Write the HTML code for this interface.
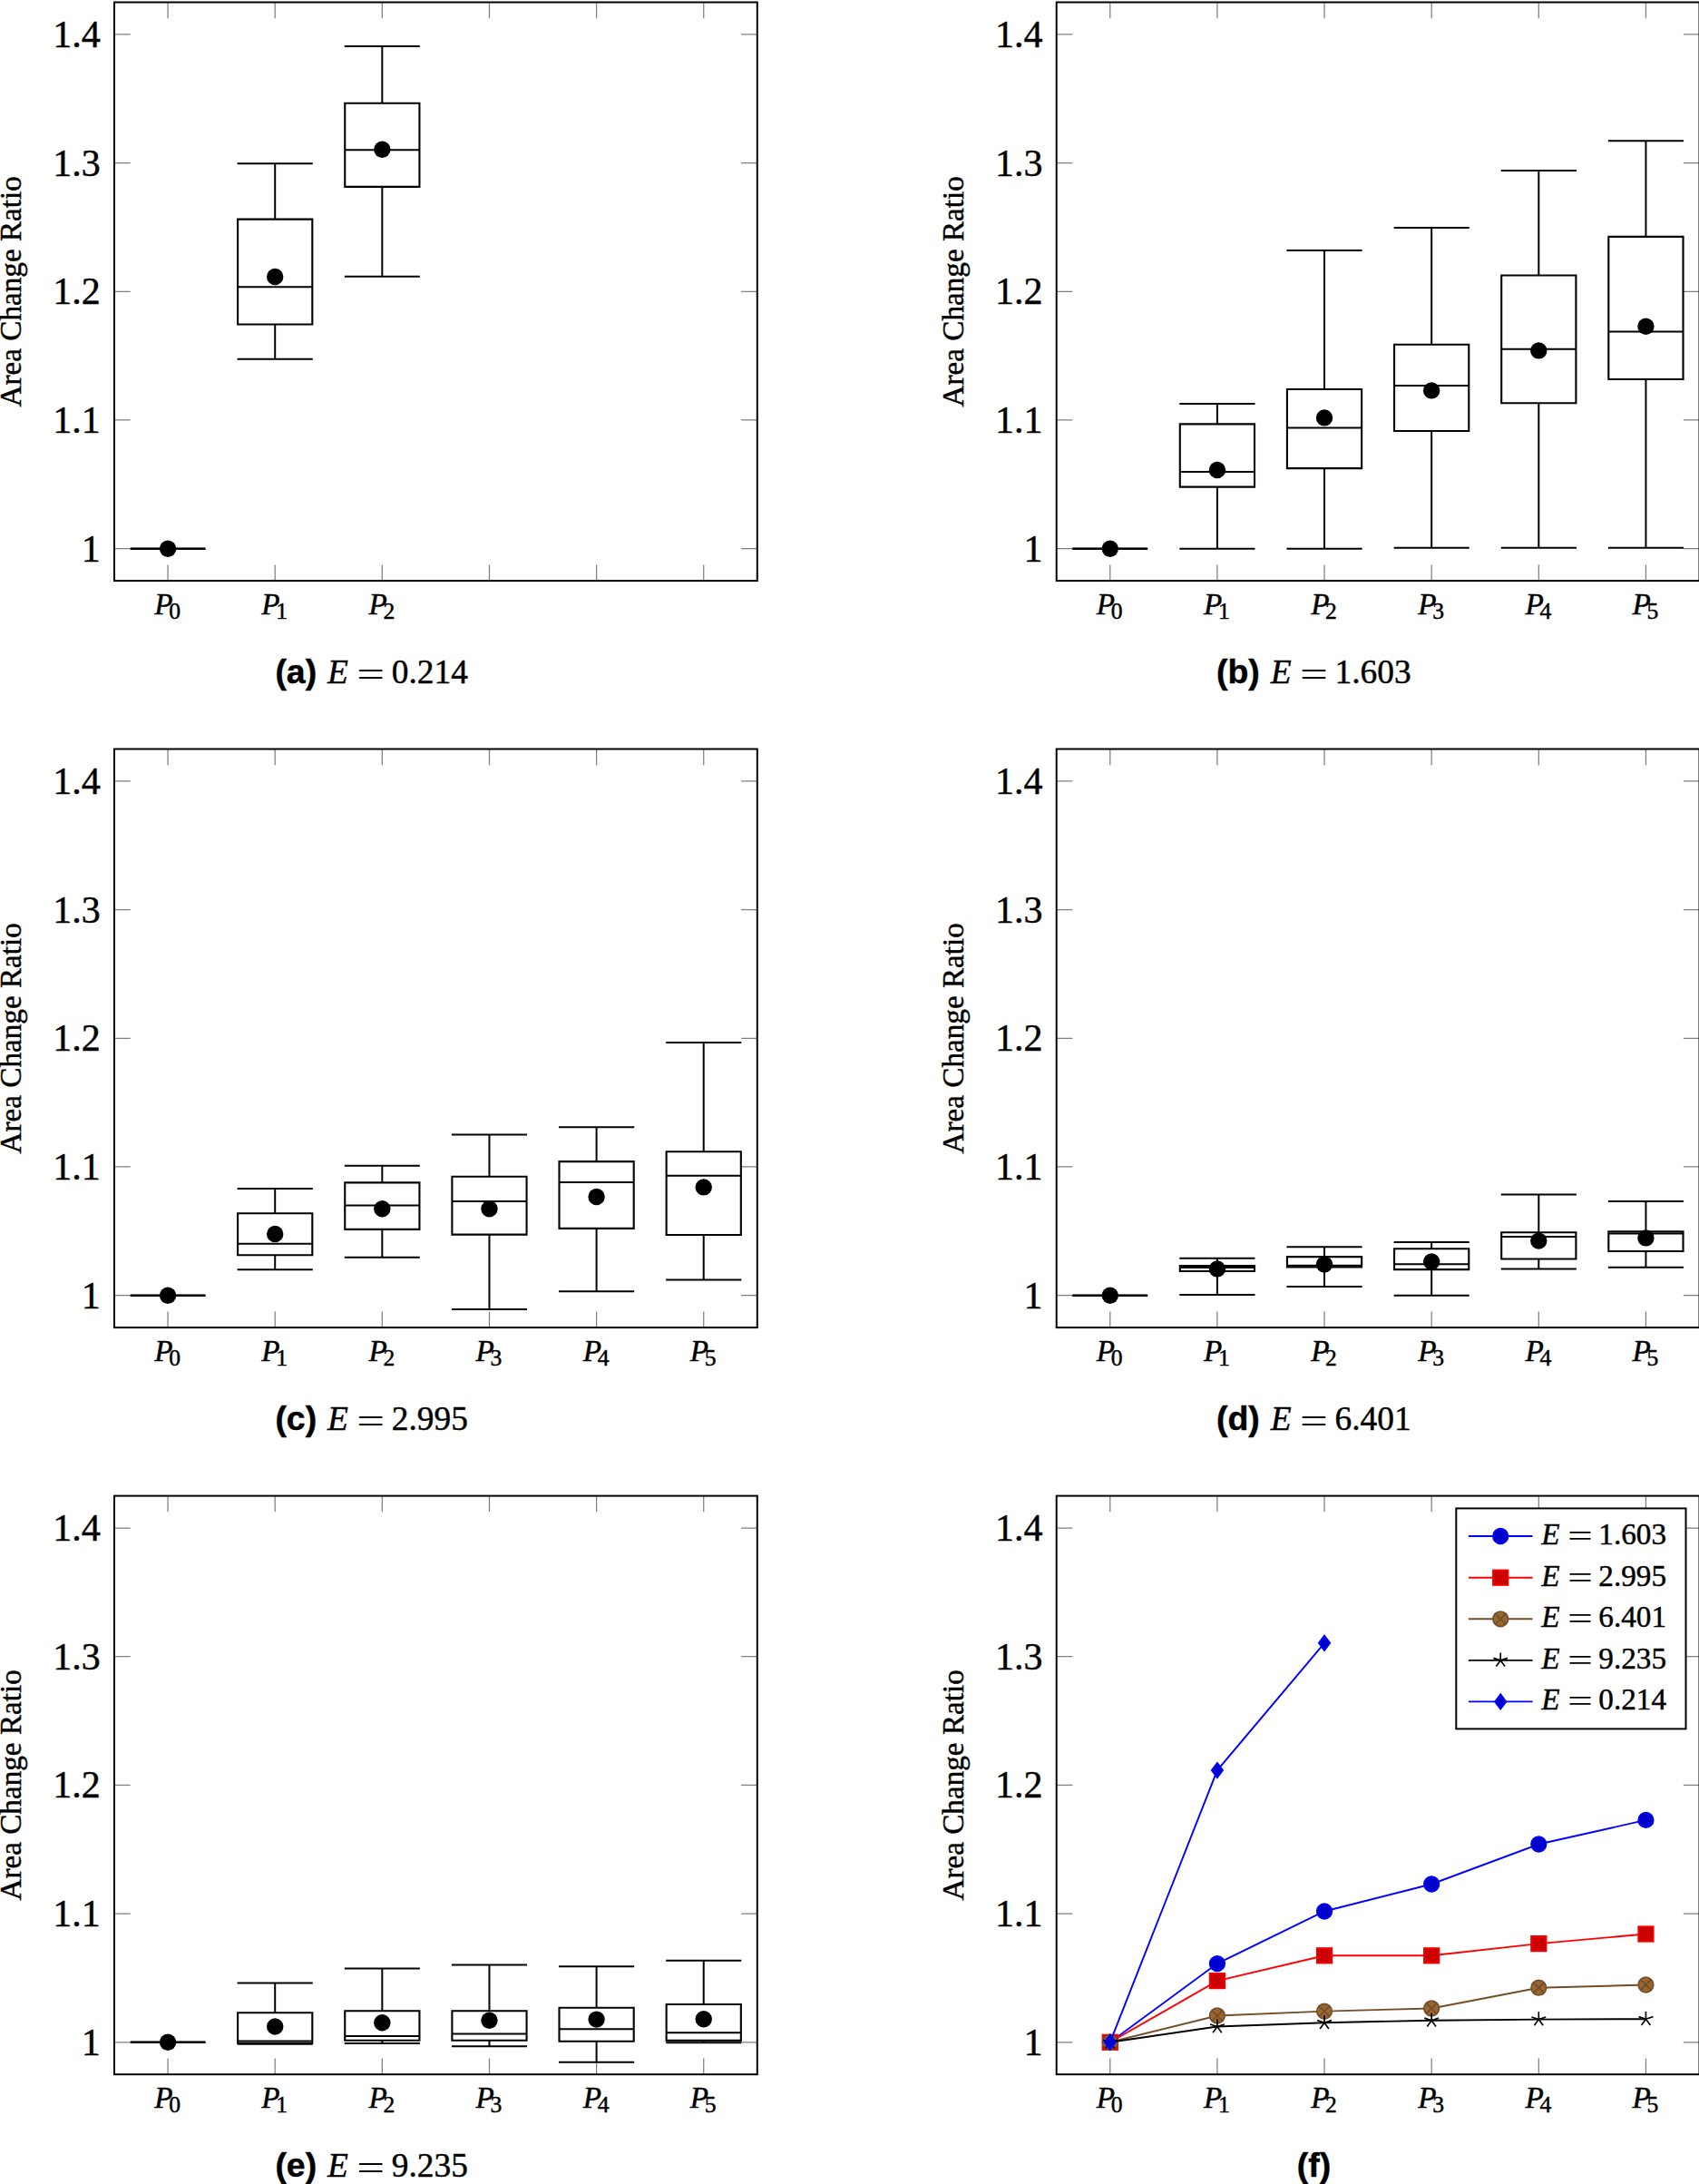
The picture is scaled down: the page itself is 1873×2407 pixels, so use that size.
<!DOCTYPE html>
<html lang="en">
<head>
<meta charset="utf-8">
<title>Area Change Ratio</title>
<style>
html,body{margin:0;padding:0;background:#fff;}
body{width:1873px;height:2407px;overflow:hidden;}
svg{display:block;}
text{font-family:'Liberation Serif', serif;fill:#000;stroke:#000;stroke-width:.45px;}
text.eq{stroke:none;}
text.cb{font-family:'Liberation Sans',sans-serif;font-weight:bold;}
</style>
</head>
<body>
<svg width="1873" height="2407" viewBox="0 0 1873 2407">
<rect width="1873" height="2407" fill="#fff"/>
<g>
<path d="M185.07 640.1v-17.7M185.07 2.5v17.7M303.2 640.1v-17.7M303.2 2.5v17.7M421.33 640.1v-17.7M421.33 2.5v17.7M539.47 640.1v-17.7M539.47 2.5v17.7M657.6 640.1v-17.7M657.6 2.5v17.7M775.73 640.1v-17.7M775.73 2.5v17.7M126 604.68h17.7M834.8 604.68h-17.7M126 462.99h17.7M834.8 462.99h-17.7M126 321.3h17.7M834.8 321.3h-17.7M126 179.61h17.7M834.8 179.61h-17.7M126 37.92h17.7M834.8 37.92h-17.7" stroke="#808080" stroke-width="1.25" fill="none"/>
<rect x="126" y="2.5" width="708.8" height="637.6" fill="none" stroke="#000" stroke-width="2.0"/>
<text x="110.7" y="618.68" font-size="42.0" text-anchor="end">1</text>
<text x="110.7" y="476.99" font-size="42.0" text-anchor="end">1.1</text>
<text x="110.7" y="335.3" font-size="42.0" text-anchor="end">1.2</text>
<text x="110.7" y="193.61" font-size="42.0" text-anchor="end">1.3</text>
<text x="110.7" y="51.92" font-size="42.0" text-anchor="end">1.4</text>
<text x="170.17" y="677.1" font-size="33.2"><tspan font-style="italic">P</tspan><tspan dx="-4.3" dy="4.6" font-size="25.6">0</tspan></text>
<text x="288.3" y="677.1" font-size="33.2"><tspan font-style="italic">P</tspan><tspan dx="-4.3" dy="4.6" font-size="25.6">1</tspan></text>
<text x="406.43" y="677.1" font-size="33.2"><tspan font-style="italic">P</tspan><tspan dx="-4.3" dy="4.6" font-size="25.6">2</tspan></text>
<text transform="translate(23.1 321.3) rotate(-90)" font-size="33.2" text-anchor="middle">Area Change Ratio</text>
<path d="M143.97 604.68H226.17V604.68H143.97Z" stroke="#000" stroke-width="2.1" fill="none"/>
<path d="M143.97 604.68H226.17M185.07 604.68V604.68M185.07 604.68V604.68" stroke="#000" stroke-width="2.0" fill="none"/>
<path d="M143.52 604.68H226.62M143.52 604.68H226.62" stroke="#000" stroke-width="2.0" fill="none"/>
<circle cx="185.07" cy="604.68" r="9.2"/>
<path d="M262.1 241.6H344.3V357.5H262.1Z" stroke="#000" stroke-width="2.1" fill="none"/>
<path d="M262.1 316.2H344.3M303.2 241.6V180.3M303.2 357.5V395.8" stroke="#000" stroke-width="2.0" fill="none"/>
<path d="M261.65 180.3H344.75M261.65 395.8H344.75" stroke="#000" stroke-width="2.0" fill="none"/>
<circle cx="303.2" cy="305" r="9.2"/>
<path d="M380.23 113.8H462.43V205.9H380.23Z" stroke="#000" stroke-width="2.1" fill="none"/>
<path d="M380.23 165.2H462.43M421.33 113.8V51.1M421.33 205.9V304.8" stroke="#000" stroke-width="2.0" fill="none"/>
<path d="M379.78 51.1H462.88M379.78 304.8H462.88" stroke="#000" stroke-width="2.0" fill="none"/>
<circle cx="421.33" cy="164.7" r="9.2"/>
<text x="303.4" y="753.1" class="cb" font-size="37.4">(a)</text>
<text x="360.9" y="753.1" font-size="37.4" font-style="italic">E</text>
<text transform="translate(393.2 756.1) scale(1.46 1)" class="eq" font-size="37.4">=</text>
<text x="431.8" y="753.1" font-size="37.4">0.214</text>
</g>
<g>
<path d="M1223.77 640.1v-17.7M1223.77 2.5v17.7M1341.9 640.1v-17.7M1341.9 2.5v17.7M1460.03 640.1v-17.7M1460.03 2.5v17.7M1578.17 640.1v-17.7M1578.17 2.5v17.7M1696.3 640.1v-17.7M1696.3 2.5v17.7M1814.43 640.1v-17.7M1814.43 2.5v17.7M1164.7 604.68h17.7M1873.5 604.68h-17.7M1164.7 462.99h17.7M1873.5 462.99h-17.7M1164.7 321.3h17.7M1873.5 321.3h-17.7M1164.7 179.61h17.7M1873.5 179.61h-17.7M1164.7 37.92h17.7M1873.5 37.92h-17.7" stroke="#808080" stroke-width="1.25" fill="none"/>
<rect x="1164.7" y="2.5" width="708.8" height="637.6" fill="none" stroke="#000" stroke-width="2.0"/>
<text x="1149.4" y="618.68" font-size="42.0" text-anchor="end">1</text>
<text x="1149.4" y="476.99" font-size="42.0" text-anchor="end">1.1</text>
<text x="1149.4" y="335.3" font-size="42.0" text-anchor="end">1.2</text>
<text x="1149.4" y="193.61" font-size="42.0" text-anchor="end">1.3</text>
<text x="1149.4" y="51.92" font-size="42.0" text-anchor="end">1.4</text>
<text x="1208.87" y="677.1" font-size="33.2"><tspan font-style="italic">P</tspan><tspan dx="-4.3" dy="4.6" font-size="25.6">0</tspan></text>
<text x="1327" y="677.1" font-size="33.2"><tspan font-style="italic">P</tspan><tspan dx="-4.3" dy="4.6" font-size="25.6">1</tspan></text>
<text x="1445.13" y="677.1" font-size="33.2"><tspan font-style="italic">P</tspan><tspan dx="-4.3" dy="4.6" font-size="25.6">2</tspan></text>
<text x="1563.27" y="677.1" font-size="33.2"><tspan font-style="italic">P</tspan><tspan dx="-4.3" dy="4.6" font-size="25.6">3</tspan></text>
<text x="1681.4" y="677.1" font-size="33.2"><tspan font-style="italic">P</tspan><tspan dx="-4.3" dy="4.6" font-size="25.6">4</tspan></text>
<text x="1799.53" y="677.1" font-size="33.2"><tspan font-style="italic">P</tspan><tspan dx="-4.3" dy="4.6" font-size="25.6">5</tspan></text>
<text transform="translate(1061.8 321.3) rotate(-90)" font-size="33.2" text-anchor="middle">Area Change Ratio</text>
<path d="M1182.67 604.68H1264.87V604.68H1182.67Z" stroke="#000" stroke-width="2.1" fill="none"/>
<path d="M1182.67 604.68H1264.87M1223.77 604.68V604.68M1223.77 604.68V604.68" stroke="#000" stroke-width="2.0" fill="none"/>
<path d="M1182.22 604.68H1265.32M1182.22 604.68H1265.32" stroke="#000" stroke-width="2.0" fill="none"/>
<circle cx="1223.77" cy="604.68" r="9.2"/>
<path d="M1300.8 467.4H1383V536.6H1300.8Z" stroke="#000" stroke-width="2.1" fill="none"/>
<path d="M1300.8 520.1H1383M1341.9 467.4V445.1M1341.9 536.6V604.7" stroke="#000" stroke-width="2.0" fill="none"/>
<path d="M1300.35 445.1H1383.45M1300.35 604.7H1383.45" stroke="#000" stroke-width="2.0" fill="none"/>
<circle cx="1341.9" cy="518" r="9.2"/>
<path d="M1418.93 429H1501.13V516.1H1418.93Z" stroke="#000" stroke-width="2.1" fill="none"/>
<path d="M1418.93 471.4H1501.13M1460.03 429V276M1460.03 516.1V604.7" stroke="#000" stroke-width="2.0" fill="none"/>
<path d="M1418.48 276H1501.58M1418.48 604.7H1501.58" stroke="#000" stroke-width="2.0" fill="none"/>
<circle cx="1460.03" cy="460.4" r="9.2"/>
<path d="M1537.07 379.8H1619.27V475H1537.07Z" stroke="#000" stroke-width="2.1" fill="none"/>
<path d="M1537.07 424.9H1619.27M1578.17 379.8V251.1M1578.17 475V603.7" stroke="#000" stroke-width="2.0" fill="none"/>
<path d="M1536.62 251.1H1619.72M1536.62 603.7H1619.72" stroke="#000" stroke-width="2.0" fill="none"/>
<circle cx="1578.17" cy="430.4" r="9.2"/>
<path d="M1655.2 303.5H1737.4V444.3H1655.2Z" stroke="#000" stroke-width="2.1" fill="none"/>
<path d="M1655.2 384.8H1737.4M1696.3 303.5V188.1M1696.3 444.3V603.7" stroke="#000" stroke-width="2.0" fill="none"/>
<path d="M1654.75 188.1H1737.85M1654.75 603.7H1737.85" stroke="#000" stroke-width="2.0" fill="none"/>
<circle cx="1696.3" cy="386.4" r="9.2"/>
<path d="M1773.33 260.9H1855.53V418H1773.33Z" stroke="#000" stroke-width="2.1" fill="none"/>
<path d="M1773.33 365.6H1855.53M1814.43 260.9V155.3M1814.43 418V603.7" stroke="#000" stroke-width="2.0" fill="none"/>
<path d="M1772.88 155.3H1855.98M1772.88 603.7H1855.98" stroke="#000" stroke-width="2.0" fill="none"/>
<circle cx="1814.43" cy="359.8" r="9.2"/>
<text x="1341.07" y="753.1" class="cb" font-size="37.4">(b)</text>
<text x="1400.63" y="753.1" font-size="37.4" font-style="italic">E</text>
<text transform="translate(1432.93 756.1) scale(1.46 1)" class="eq" font-size="37.4">=</text>
<text x="1471.53" y="753.1" font-size="37.4">1.603</text>
</g>
<g>
<path d="M185.07 1463.1v-17.7M185.07 825.5v17.7M303.2 1463.1v-17.7M303.2 825.5v17.7M421.33 1463.1v-17.7M421.33 825.5v17.7M539.47 1463.1v-17.7M539.47 825.5v17.7M657.6 1463.1v-17.7M657.6 825.5v17.7M775.73 1463.1v-17.7M775.73 825.5v17.7M126 1427.68h17.7M834.8 1427.68h-17.7M126 1285.99h17.7M834.8 1285.99h-17.7M126 1144.3h17.7M834.8 1144.3h-17.7M126 1002.61h17.7M834.8 1002.61h-17.7M126 860.92h17.7M834.8 860.92h-17.7" stroke="#808080" stroke-width="1.25" fill="none"/>
<rect x="126" y="825.5" width="708.8" height="637.6" fill="none" stroke="#000" stroke-width="2.0"/>
<text x="110.7" y="1441.68" font-size="42.0" text-anchor="end">1</text>
<text x="110.7" y="1299.99" font-size="42.0" text-anchor="end">1.1</text>
<text x="110.7" y="1158.3" font-size="42.0" text-anchor="end">1.2</text>
<text x="110.7" y="1016.61" font-size="42.0" text-anchor="end">1.3</text>
<text x="110.7" y="874.92" font-size="42.0" text-anchor="end">1.4</text>
<text x="170.17" y="1500.1" font-size="33.2"><tspan font-style="italic">P</tspan><tspan dx="-4.3" dy="4.6" font-size="25.6">0</tspan></text>
<text x="288.3" y="1500.1" font-size="33.2"><tspan font-style="italic">P</tspan><tspan dx="-4.3" dy="4.6" font-size="25.6">1</tspan></text>
<text x="406.43" y="1500.1" font-size="33.2"><tspan font-style="italic">P</tspan><tspan dx="-4.3" dy="4.6" font-size="25.6">2</tspan></text>
<text x="524.57" y="1500.1" font-size="33.2"><tspan font-style="italic">P</tspan><tspan dx="-4.3" dy="4.6" font-size="25.6">3</tspan></text>
<text x="642.7" y="1500.1" font-size="33.2"><tspan font-style="italic">P</tspan><tspan dx="-4.3" dy="4.6" font-size="25.6">4</tspan></text>
<text x="760.83" y="1500.1" font-size="33.2"><tspan font-style="italic">P</tspan><tspan dx="-4.3" dy="4.6" font-size="25.6">5</tspan></text>
<text transform="translate(23.1 1144.3) rotate(-90)" font-size="33.2" text-anchor="middle">Area Change Ratio</text>
<path d="M143.97 1427.68H226.17V1427.68H143.97Z" stroke="#000" stroke-width="2.1" fill="none"/>
<path d="M143.97 1427.68H226.17M185.07 1427.68V1427.68M185.07 1427.68V1427.68" stroke="#000" stroke-width="2.0" fill="none"/>
<path d="M143.52 1427.68H226.62M143.52 1427.68H226.62" stroke="#000" stroke-width="2.0" fill="none"/>
<circle cx="185.07" cy="1427.68" r="9.2"/>
<path d="M262.1 1337.3H344.3V1383.3H262.1Z" stroke="#000" stroke-width="2.1" fill="none"/>
<path d="M262.1 1370.8H344.3M303.2 1337.3V1310M303.2 1383.3V1399.2" stroke="#000" stroke-width="2.0" fill="none"/>
<path d="M261.65 1310H344.75M261.65 1399.2H344.75" stroke="#000" stroke-width="2.0" fill="none"/>
<circle cx="303.2" cy="1360" r="9.2"/>
<path d="M380.23 1303.4H462.43V1354.9H380.23Z" stroke="#000" stroke-width="2.1" fill="none"/>
<path d="M380.23 1328.4H462.43M421.33 1303.4V1284.8M421.33 1354.9V1385.8" stroke="#000" stroke-width="2.0" fill="none"/>
<path d="M379.78 1284.8H462.88M379.78 1385.8H462.88" stroke="#000" stroke-width="2.0" fill="none"/>
<circle cx="421.33" cy="1332.2" r="9.2"/>
<path d="M498.37 1296.8H580.57V1360.6H498.37Z" stroke="#000" stroke-width="2.1" fill="none"/>
<path d="M498.37 1324H580.57M539.47 1296.8V1250.4M539.47 1360.6V1443" stroke="#000" stroke-width="2.0" fill="none"/>
<path d="M497.92 1250.4H581.02M497.92 1443H581.02" stroke="#000" stroke-width="2.0" fill="none"/>
<circle cx="539.47" cy="1332.2" r="9.2"/>
<path d="M616.5 1280.1H698.7V1353.9H616.5Z" stroke="#000" stroke-width="2.1" fill="none"/>
<path d="M616.5 1303.1H698.7M657.6 1280.1V1242.2M657.6 1353.9V1423.2" stroke="#000" stroke-width="2.0" fill="none"/>
<path d="M616.05 1242.2H699.15M616.05 1423.2H699.15" stroke="#000" stroke-width="2.0" fill="none"/>
<circle cx="657.6" cy="1319" r="9.2"/>
<path d="M734.63 1269.2H816.83V1361H734.63Z" stroke="#000" stroke-width="2.1" fill="none"/>
<path d="M734.63 1295.7H816.83M775.73 1269.2V1149.1M775.73 1361V1410.4" stroke="#000" stroke-width="2.0" fill="none"/>
<path d="M734.18 1149.1H817.28M734.18 1410.4H817.28" stroke="#000" stroke-width="2.0" fill="none"/>
<circle cx="775.73" cy="1308.4" r="9.2"/>
<text x="303.4" y="1576.1" class="cb" font-size="37.4">(c)</text>
<text x="360.9" y="1576.1" font-size="37.4" font-style="italic">E</text>
<text transform="translate(393.2 1579.1) scale(1.46 1)" class="eq" font-size="37.4">=</text>
<text x="431.8" y="1576.1" font-size="37.4">2.995</text>
</g>
<g>
<path d="M1223.77 1463.1v-17.7M1223.77 825.5v17.7M1341.9 1463.1v-17.7M1341.9 825.5v17.7M1460.03 1463.1v-17.7M1460.03 825.5v17.7M1578.17 1463.1v-17.7M1578.17 825.5v17.7M1696.3 1463.1v-17.7M1696.3 825.5v17.7M1814.43 1463.1v-17.7M1814.43 825.5v17.7M1164.7 1427.68h17.7M1873.5 1427.68h-17.7M1164.7 1285.99h17.7M1873.5 1285.99h-17.7M1164.7 1144.3h17.7M1873.5 1144.3h-17.7M1164.7 1002.61h17.7M1873.5 1002.61h-17.7M1164.7 860.92h17.7M1873.5 860.92h-17.7" stroke="#808080" stroke-width="1.25" fill="none"/>
<rect x="1164.7" y="825.5" width="708.8" height="637.6" fill="none" stroke="#000" stroke-width="2.0"/>
<text x="1149.4" y="1441.68" font-size="42.0" text-anchor="end">1</text>
<text x="1149.4" y="1299.99" font-size="42.0" text-anchor="end">1.1</text>
<text x="1149.4" y="1158.3" font-size="42.0" text-anchor="end">1.2</text>
<text x="1149.4" y="1016.61" font-size="42.0" text-anchor="end">1.3</text>
<text x="1149.4" y="874.92" font-size="42.0" text-anchor="end">1.4</text>
<text x="1208.87" y="1500.1" font-size="33.2"><tspan font-style="italic">P</tspan><tspan dx="-4.3" dy="4.6" font-size="25.6">0</tspan></text>
<text x="1327" y="1500.1" font-size="33.2"><tspan font-style="italic">P</tspan><tspan dx="-4.3" dy="4.6" font-size="25.6">1</tspan></text>
<text x="1445.13" y="1500.1" font-size="33.2"><tspan font-style="italic">P</tspan><tspan dx="-4.3" dy="4.6" font-size="25.6">2</tspan></text>
<text x="1563.27" y="1500.1" font-size="33.2"><tspan font-style="italic">P</tspan><tspan dx="-4.3" dy="4.6" font-size="25.6">3</tspan></text>
<text x="1681.4" y="1500.1" font-size="33.2"><tspan font-style="italic">P</tspan><tspan dx="-4.3" dy="4.6" font-size="25.6">4</tspan></text>
<text x="1799.53" y="1500.1" font-size="33.2"><tspan font-style="italic">P</tspan><tspan dx="-4.3" dy="4.6" font-size="25.6">5</tspan></text>
<text transform="translate(1061.8 1144.3) rotate(-90)" font-size="33.2" text-anchor="middle">Area Change Ratio</text>
<path d="M1182.67 1427.68H1264.87V1427.68H1182.67Z" stroke="#000" stroke-width="2.1" fill="none"/>
<path d="M1182.67 1427.68H1264.87M1223.77 1427.68V1427.68M1223.77 1427.68V1427.68" stroke="#000" stroke-width="2.0" fill="none"/>
<path d="M1182.22 1427.68H1265.32M1182.22 1427.68H1265.32" stroke="#000" stroke-width="2.0" fill="none"/>
<circle cx="1223.77" cy="1427.68" r="9.2"/>
<path d="M1300.8 1395H1383V1401H1300.8Z" stroke="#000" stroke-width="2.1" fill="none"/>
<path d="M1300.8 1397H1383M1341.9 1395V1386.8M1341.9 1401V1427.1" stroke="#000" stroke-width="2.0" fill="none"/>
<path d="M1300.35 1386.8H1383.45M1300.35 1427.1H1383.45" stroke="#000" stroke-width="2.0" fill="none"/>
<circle cx="1341.9" cy="1398.4" r="9.2"/>
<path d="M1418.93 1385.1H1501.13V1396.4H1418.93Z" stroke="#000" stroke-width="2.1" fill="none"/>
<path d="M1418.93 1394.8H1501.13M1460.03 1385.1V1374.3M1460.03 1396.4V1417.9" stroke="#000" stroke-width="2.0" fill="none"/>
<path d="M1418.48 1374.3H1501.58M1418.48 1417.9H1501.58" stroke="#000" stroke-width="2.0" fill="none"/>
<circle cx="1460.03" cy="1393.5" r="9.2"/>
<path d="M1537.07 1376.2H1619.27V1399.1H1537.07Z" stroke="#000" stroke-width="2.1" fill="none"/>
<path d="M1537.07 1393.2H1619.27M1578.17 1376.2V1369M1578.17 1399.1V1427.7" stroke="#000" stroke-width="2.0" fill="none"/>
<path d="M1536.62 1369H1619.72M1536.62 1427.7H1619.72" stroke="#000" stroke-width="2.0" fill="none"/>
<circle cx="1578.17" cy="1390.4" r="9.2"/>
<path d="M1655.2 1358.2H1737.4V1387.5H1655.2Z" stroke="#000" stroke-width="2.1" fill="none"/>
<path d="M1655.2 1363.1H1737.4M1696.3 1358.2V1316.5M1696.3 1387.5V1398.5" stroke="#000" stroke-width="2.0" fill="none"/>
<path d="M1654.75 1316.5H1737.85M1654.75 1398.5H1737.85" stroke="#000" stroke-width="2.0" fill="none"/>
<circle cx="1696.3" cy="1367.6" r="9.2"/>
<path d="M1773.33 1357.4H1855.53V1379H1773.33Z" stroke="#000" stroke-width="2.1" fill="none"/>
<path d="M1773.33 1359.5H1855.53M1814.43 1357.4V1323.9M1814.43 1379V1396.8" stroke="#000" stroke-width="2.0" fill="none"/>
<path d="M1772.88 1323.9H1855.98M1772.88 1396.8H1855.98" stroke="#000" stroke-width="2.0" fill="none"/>
<circle cx="1814.43" cy="1364.4" r="9.2"/>
<text x="1341.07" y="1576.1" class="cb" font-size="37.4">(d)</text>
<text x="1400.63" y="1576.1" font-size="37.4" font-style="italic">E</text>
<text transform="translate(1432.93 1579.1) scale(1.46 1)" class="eq" font-size="37.4">=</text>
<text x="1471.53" y="1576.1" font-size="37.4">6.401</text>
</g>
<g>
<path d="M185.07 2286.2v-17.7M185.07 1648.6v17.7M303.2 2286.2v-17.7M303.2 1648.6v17.7M421.33 2286.2v-17.7M421.33 1648.6v17.7M539.47 2286.2v-17.7M539.47 1648.6v17.7M657.6 2286.2v-17.7M657.6 1648.6v17.7M775.73 2286.2v-17.7M775.73 1648.6v17.7M126 2250.78h17.7M834.8 2250.78h-17.7M126 2109.09h17.7M834.8 2109.09h-17.7M126 1967.4h17.7M834.8 1967.4h-17.7M126 1825.71h17.7M834.8 1825.71h-17.7M126 1684.02h17.7M834.8 1684.02h-17.7" stroke="#808080" stroke-width="1.25" fill="none"/>
<rect x="126" y="1648.6" width="708.8" height="637.6" fill="none" stroke="#000" stroke-width="2.0"/>
<text x="110.7" y="2264.78" font-size="42.0" text-anchor="end">1</text>
<text x="110.7" y="2123.09" font-size="42.0" text-anchor="end">1.1</text>
<text x="110.7" y="1981.4" font-size="42.0" text-anchor="end">1.2</text>
<text x="110.7" y="1839.71" font-size="42.0" text-anchor="end">1.3</text>
<text x="110.7" y="1698.02" font-size="42.0" text-anchor="end">1.4</text>
<text x="170.17" y="2323.2" font-size="33.2"><tspan font-style="italic">P</tspan><tspan dx="-4.3" dy="4.6" font-size="25.6">0</tspan></text>
<text x="288.3" y="2323.2" font-size="33.2"><tspan font-style="italic">P</tspan><tspan dx="-4.3" dy="4.6" font-size="25.6">1</tspan></text>
<text x="406.43" y="2323.2" font-size="33.2"><tspan font-style="italic">P</tspan><tspan dx="-4.3" dy="4.6" font-size="25.6">2</tspan></text>
<text x="524.57" y="2323.2" font-size="33.2"><tspan font-style="italic">P</tspan><tspan dx="-4.3" dy="4.6" font-size="25.6">3</tspan></text>
<text x="642.7" y="2323.2" font-size="33.2"><tspan font-style="italic">P</tspan><tspan dx="-4.3" dy="4.6" font-size="25.6">4</tspan></text>
<text x="760.83" y="2323.2" font-size="33.2"><tspan font-style="italic">P</tspan><tspan dx="-4.3" dy="4.6" font-size="25.6">5</tspan></text>
<text transform="translate(23.1 1967.4) rotate(-90)" font-size="33.2" text-anchor="middle">Area Change Ratio</text>
<path d="M143.97 2250.78H226.17V2250.78H143.97Z" stroke="#000" stroke-width="2.1" fill="none"/>
<path d="M143.97 2250.78H226.17M185.07 2250.78V2250.78M185.07 2250.78V2250.78" stroke="#000" stroke-width="2.0" fill="none"/>
<path d="M143.52 2250.78H226.62M143.52 2250.78H226.62" stroke="#000" stroke-width="2.0" fill="none"/>
<circle cx="185.07" cy="2250.78" r="9.2"/>
<path d="M262.1 2218.2H344.3V2251.7H262.1Z" stroke="#000" stroke-width="2.1" fill="none"/>
<path d="M262.1 2249.6H344.3M303.2 2218.2V2185.4M303.2 2251.7V2252.8" stroke="#000" stroke-width="2.0" fill="none"/>
<path d="M261.65 2185.4H344.75M261.65 2252.8H344.75" stroke="#000" stroke-width="2.0" fill="none"/>
<circle cx="303.2" cy="2233.5" r="9.2"/>
<path d="M380.23 2216.3H462.43V2248.7H380.23Z" stroke="#000" stroke-width="2.1" fill="none"/>
<path d="M380.23 2243.9H462.43M421.33 2216.3V2169.5M421.33 2248.7V2251.9" stroke="#000" stroke-width="2.0" fill="none"/>
<path d="M379.78 2169.5H462.88M379.78 2251.9H462.88" stroke="#000" stroke-width="2.0" fill="none"/>
<circle cx="421.33" cy="2229.2" r="9.2"/>
<path d="M498.37 2216.3H580.57V2248.7H498.37Z" stroke="#000" stroke-width="2.1" fill="none"/>
<path d="M498.37 2241.5H580.57M539.47 2216.3V2165.5M539.47 2248.7V2255.3" stroke="#000" stroke-width="2.0" fill="none"/>
<path d="M497.92 2165.5H581.02M497.92 2255.3H581.02" stroke="#000" stroke-width="2.0" fill="none"/>
<circle cx="539.47" cy="2226.7" r="9.2"/>
<path d="M616.5 2212.7H698.7V2249.8H616.5Z" stroke="#000" stroke-width="2.1" fill="none"/>
<path d="M616.5 2236.2H698.7M657.6 2212.7V2167.3M657.6 2249.8V2272.7" stroke="#000" stroke-width="2.0" fill="none"/>
<path d="M616.05 2167.3H699.15M616.05 2272.7H699.15" stroke="#000" stroke-width="2.0" fill="none"/>
<circle cx="657.6" cy="2225.6" r="9.2"/>
<path d="M734.63 2209H816.83V2248.9H734.63Z" stroke="#000" stroke-width="2.1" fill="none"/>
<path d="M734.63 2240.2H816.83M775.73 2209V2160.8M775.73 2248.9V2251.2" stroke="#000" stroke-width="2.0" fill="none"/>
<path d="M734.18 2160.8H817.28M734.18 2251.2H817.28" stroke="#000" stroke-width="2.0" fill="none"/>
<circle cx="775.73" cy="2225.2" r="9.2"/>
<text x="303.4" y="2399.2" class="cb" font-size="37.4">(e)</text>
<text x="360.9" y="2399.2" font-size="37.4" font-style="italic">E</text>
<text transform="translate(393.2 2402.2) scale(1.46 1)" class="eq" font-size="37.4">=</text>
<text x="431.8" y="2399.2" font-size="37.4">9.235</text>
</g>
<g>
<path d="M1223.77 2286.2v-17.7M1223.77 1648.6v17.7M1341.9 2286.2v-17.7M1341.9 1648.6v17.7M1460.03 2286.2v-17.7M1460.03 1648.6v17.7M1578.17 2286.2v-17.7M1578.17 1648.6v17.7M1696.3 2286.2v-17.7M1696.3 1648.6v17.7M1814.43 2286.2v-17.7M1814.43 1648.6v17.7M1164.7 2250.78h17.7M1873.5 2250.78h-17.7M1164.7 2109.09h17.7M1873.5 2109.09h-17.7M1164.7 1967.4h17.7M1873.5 1967.4h-17.7M1164.7 1825.71h17.7M1873.5 1825.71h-17.7M1164.7 1684.02h17.7M1873.5 1684.02h-17.7" stroke="#808080" stroke-width="1.25" fill="none"/>
<rect x="1164.7" y="1648.6" width="708.8" height="637.6" fill="none" stroke="#000" stroke-width="2.0"/>
<text x="1149.4" y="2264.78" font-size="42.0" text-anchor="end">1</text>
<text x="1149.4" y="2123.09" font-size="42.0" text-anchor="end">1.1</text>
<text x="1149.4" y="1981.4" font-size="42.0" text-anchor="end">1.2</text>
<text x="1149.4" y="1839.71" font-size="42.0" text-anchor="end">1.3</text>
<text x="1149.4" y="1698.02" font-size="42.0" text-anchor="end">1.4</text>
<text x="1208.87" y="2323.2" font-size="33.2"><tspan font-style="italic">P</tspan><tspan dx="-4.3" dy="4.6" font-size="25.6">0</tspan></text>
<text x="1327" y="2323.2" font-size="33.2"><tspan font-style="italic">P</tspan><tspan dx="-4.3" dy="4.6" font-size="25.6">1</tspan></text>
<text x="1445.13" y="2323.2" font-size="33.2"><tspan font-style="italic">P</tspan><tspan dx="-4.3" dy="4.6" font-size="25.6">2</tspan></text>
<text x="1563.27" y="2323.2" font-size="33.2"><tspan font-style="italic">P</tspan><tspan dx="-4.3" dy="4.6" font-size="25.6">3</tspan></text>
<text x="1681.4" y="2323.2" font-size="33.2"><tspan font-style="italic">P</tspan><tspan dx="-4.3" dy="4.6" font-size="25.6">4</tspan></text>
<text x="1799.53" y="2323.2" font-size="33.2"><tspan font-style="italic">P</tspan><tspan dx="-4.3" dy="4.6" font-size="25.6">5</tspan></text>
<text transform="translate(1061.8 1967.4) rotate(-90)" font-size="33.2" text-anchor="middle">Area Change Ratio</text>
<polyline points="1223.77,2250.78 1341.9,2164.1 1460.03,2106.5 1578.17,2076.5 1696.3,2032.5 1814.43,2005.9" fill="none" stroke="#0000ff" stroke-width="1.9"/>
<circle cx="1223.77" cy="2250.78" r="8.3" fill="#0000cc" stroke="#0000ff" stroke-width="1.66"/>
<circle cx="1341.9" cy="2164.1" r="8.3" fill="#0000cc" stroke="#0000ff" stroke-width="1.66"/>
<circle cx="1460.03" cy="2106.5" r="8.3" fill="#0000cc" stroke="#0000ff" stroke-width="1.66"/>
<circle cx="1578.17" cy="2076.5" r="8.3" fill="#0000cc" stroke="#0000ff" stroke-width="1.66"/>
<circle cx="1696.3" cy="2032.5" r="8.3" fill="#0000cc" stroke="#0000ff" stroke-width="1.66"/>
<circle cx="1814.43" cy="2005.9" r="8.3" fill="#0000cc" stroke="#0000ff" stroke-width="1.66"/>
<polyline points="1223.77,2250.78 1341.9,2183.1 1460.03,2155.3 1578.17,2155.3 1696.3,2142.1 1814.43,2131.5" fill="none" stroke="#ff0000" stroke-width="1.9"/>
<rect x="1215.47" y="2242.48" width="16.6" height="16.6" fill="#cc0000" stroke="#ff0000" stroke-width="1.66"/>
<rect x="1333.6" y="2174.8" width="16.6" height="16.6" fill="#cc0000" stroke="#ff0000" stroke-width="1.66"/>
<rect x="1451.73" y="2147" width="16.6" height="16.6" fill="#cc0000" stroke="#ff0000" stroke-width="1.66"/>
<rect x="1569.87" y="2147" width="16.6" height="16.6" fill="#cc0000" stroke="#ff0000" stroke-width="1.66"/>
<rect x="1688" y="2133.8" width="16.6" height="16.6" fill="#cc0000" stroke="#ff0000" stroke-width="1.66"/>
<rect x="1806.13" y="2123.2" width="16.6" height="16.6" fill="#cc0000" stroke="#ff0000" stroke-width="1.66"/>
<polyline points="1223.77,2250.78 1341.9,2221.5 1460.03,2216.6 1578.17,2213.5 1696.3,2190.7 1814.43,2187.5" fill="none" stroke="#734d26" stroke-width="1.9"/>
<circle cx="1223.77" cy="2250.78" r="8.3" fill="#996633" stroke="#734d26" stroke-width="1.66"/>
<path d="M1217.9 2244.91L1229.64 2256.65M1217.9 2256.65L1229.64 2244.91" stroke="#734d26" stroke-width="1.66" fill="none"/>
<circle cx="1341.9" cy="2221.5" r="8.3" fill="#996633" stroke="#734d26" stroke-width="1.66"/>
<path d="M1336.03 2215.63L1347.77 2227.37M1336.03 2227.37L1347.77 2215.63" stroke="#734d26" stroke-width="1.66" fill="none"/>
<circle cx="1460.03" cy="2216.6" r="8.3" fill="#996633" stroke="#734d26" stroke-width="1.66"/>
<path d="M1454.16 2210.73L1465.9 2222.47M1454.16 2222.47L1465.9 2210.73" stroke="#734d26" stroke-width="1.66" fill="none"/>
<circle cx="1578.17" cy="2213.5" r="8.3" fill="#996633" stroke="#734d26" stroke-width="1.66"/>
<path d="M1572.3 2207.63L1584.04 2219.37M1572.3 2219.37L1584.04 2207.63" stroke="#734d26" stroke-width="1.66" fill="none"/>
<circle cx="1696.3" cy="2190.7" r="8.3" fill="#996633" stroke="#734d26" stroke-width="1.66"/>
<path d="M1690.43 2184.83L1702.17 2196.57M1690.43 2196.57L1702.17 2184.83" stroke="#734d26" stroke-width="1.66" fill="none"/>
<circle cx="1814.43" cy="2187.5" r="8.3" fill="#996633" stroke="#734d26" stroke-width="1.66"/>
<path d="M1808.56 2181.63L1820.3 2193.37M1808.56 2193.37L1820.3 2181.63" stroke="#734d26" stroke-width="1.66" fill="none"/>
<polyline points="1223.77,2250.78 1341.9,2233.5 1460.03,2229.2 1578.17,2226.7 1696.3,2225.6 1814.43,2225.2" fill="none" stroke="#000000" stroke-width="1.9"/>
<path d="M1223.77 2250.78L1223.77 2242.48M1223.77 2250.78L1215.87 2248.21M1223.77 2250.78L1218.89 2257.49M1223.77 2250.78L1228.65 2257.49M1223.77 2250.78L1231.66 2248.21" stroke="#000000" stroke-width="1.66" fill="none"/>
<path d="M1341.9 2233.5L1341.9 2225.2M1341.9 2233.5L1334.01 2230.94M1341.9 2233.5L1337.02 2240.21M1341.9 2233.5L1346.78 2240.21M1341.9 2233.5L1349.79 2230.94" stroke="#000000" stroke-width="1.66" fill="none"/>
<path d="M1460.03 2229.2L1460.03 2220.9M1460.03 2229.2L1452.14 2226.64M1460.03 2229.2L1455.15 2235.91M1460.03 2229.2L1464.91 2235.91M1460.03 2229.2L1467.93 2226.64" stroke="#000000" stroke-width="1.66" fill="none"/>
<path d="M1578.17 2226.7L1578.17 2218.4M1578.17 2226.7L1570.27 2224.14M1578.17 2226.7L1573.29 2233.41M1578.17 2226.7L1583.05 2233.41M1578.17 2226.7L1586.06 2224.14" stroke="#000000" stroke-width="1.66" fill="none"/>
<path d="M1696.3 2225.6L1696.3 2217.3M1696.3 2225.6L1688.41 2223.04M1696.3 2225.6L1691.42 2232.31M1696.3 2225.6L1701.18 2232.31M1696.3 2225.6L1704.19 2223.04" stroke="#000000" stroke-width="1.66" fill="none"/>
<path d="M1814.43 2225.2L1814.43 2216.9M1814.43 2225.2L1806.54 2222.64M1814.43 2225.2L1809.55 2231.91M1814.43 2225.2L1819.31 2231.91M1814.43 2225.2L1822.33 2222.64" stroke="#000000" stroke-width="1.66" fill="none"/>
<polyline points="1223.77,2250.78 1341.9,1951.1 1460.03,1810.8" fill="none" stroke="#0000ff" stroke-width="1.9"/>
<path d="M1223.77 2242.48L1229.99 2250.78L1223.77 2259.08L1217.54 2250.78Z" fill="#0000cc" stroke="#0000ff" stroke-width="1.66"/>
<path d="M1341.9 1942.8L1348.12 1951.1L1341.9 1959.4L1335.68 1951.1Z" fill="#0000cc" stroke="#0000ff" stroke-width="1.66"/>
<path d="M1460.03 1802.5L1466.26 1810.8L1460.03 1819.1L1453.81 1810.8Z" fill="#0000cc" stroke="#0000ff" stroke-width="1.66"/>
<rect x="1605.3" y="1662.4" width="253.2" height="243" fill="#fff" stroke="#000" stroke-width="2.0"/>
<path d="M1618.9 1693H1689.5" stroke="#0000ff" stroke-width="1.9"/>
<circle cx="1654.2" cy="1693" r="8.3" fill="#0000cc" stroke="#0000ff" stroke-width="1.66"/>
<text x="1699.2" y="1701.8" font-size="33.2" font-style="italic">E</text>
<text transform="translate(1728 1704) scale(1.49 1)" class="eq" font-size="33.2">=</text>
<text x="1762.3" y="1701.8" font-size="33.2">1.603</text>
<path d="M1618.9 1738.7H1689.5" stroke="#ff0000" stroke-width="1.9"/>
<rect x="1645.9" y="1730.4" width="16.6" height="16.6" fill="#cc0000" stroke="#ff0000" stroke-width="1.66"/>
<text x="1699.2" y="1747.5" font-size="33.2" font-style="italic">E</text>
<text transform="translate(1728 1749.7) scale(1.49 1)" class="eq" font-size="33.2">=</text>
<text x="1762.3" y="1747.5" font-size="33.2">2.995</text>
<path d="M1618.9 1784.3H1689.5" stroke="#734d26" stroke-width="1.9"/>
<circle cx="1654.2" cy="1784.3" r="8.3" fill="#996633" stroke="#734d26" stroke-width="1.66"/>
<path d="M1648.33 1778.43L1660.07 1790.17M1648.33 1790.17L1660.07 1778.43" stroke="#734d26" stroke-width="1.66" fill="none"/>
<text x="1699.2" y="1793.1" font-size="33.2" font-style="italic">E</text>
<text transform="translate(1728 1795.3) scale(1.49 1)" class="eq" font-size="33.2">=</text>
<text x="1762.3" y="1793.1" font-size="33.2">6.401</text>
<path d="M1618.9 1829.9H1689.5" stroke="#000000" stroke-width="1.9"/>
<path d="M1654.2 1829.9L1654.2 1821.6M1654.2 1829.9L1646.31 1827.34M1654.2 1829.9L1649.32 1836.61M1654.2 1829.9L1659.08 1836.61M1654.2 1829.9L1662.09 1827.34" stroke="#000000" stroke-width="1.66" fill="none"/>
<text x="1699.2" y="1838.7" font-size="33.2" font-style="italic">E</text>
<text transform="translate(1728 1840.9) scale(1.49 1)" class="eq" font-size="33.2">=</text>
<text x="1762.3" y="1838.7" font-size="33.2">9.235</text>
<path d="M1618.9 1875.4H1689.5" stroke="#0000ff" stroke-width="1.9"/>
<path d="M1654.2 1867.1L1660.42 1875.4L1654.2 1883.7L1647.98 1875.4Z" fill="#0000cc" stroke="#0000ff" stroke-width="1.66"/>
<text x="1699.2" y="1884.2" font-size="33.2" font-style="italic">E</text>
<text transform="translate(1728 1886.4) scale(1.49 1)" class="eq" font-size="33.2">=</text>
<text x="1762.3" y="1884.2" font-size="33.2">0.214</text>
<text x="1448.45" y="2399.2" class="cb" font-size="37.4" text-anchor="middle">(f)</text>
</g>
</svg>
</body>
</html>
